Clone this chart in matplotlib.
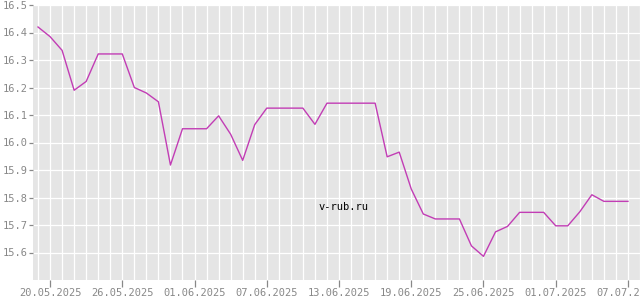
import numpy as np
import pandas as pd
import matplotlib
matplotlib.use('Agg')
import matplotlib.pyplot as plt
import matplotlib.dates as mdates

# курс по дням, 19.05.2025 - 07.07.2025
start = '2025-05-19'
values = [16.42, 16.385, 16.335, 16.19, 16.222, 16.322, 16.322, 16.322,
          16.20, 16.18, 16.148, 15.918, 16.05, 16.05, 16.05, 16.097,
          16.03, 15.935, 16.065, 16.125, 16.125, 16.125, 16.125, 16.066,
          16.143, 16.143, 16.143, 16.143, 16.143, 15.948, 15.965, 15.831,
          15.74, 15.722, 15.722, 15.722, 15.624, 15.586, 15.675, 15.695,
          15.746, 15.746, 15.746, 15.697, 15.697, 15.748, 15.81, 15.786,
          15.786, 15.786]
dates = pd.date_range(start, periods=len(values), freq='D')
tick_dates = pd.date_range('2025-05-20', '2025-07-07', freq='6D')
y_ticks = [15.6, 15.7, 15.8, 15.9, 16.0, 16.1, 16.2, 16.3, 16.4, 16.5]

plt.rcParams['font.family'] = 'DejaVu Sans Mono'

fig = plt.figure(figsize=(6.4, 3.0), dpi=100)
ax = fig.add_axes([33/640, 20/300, 607/640, 275/300])
ax.set_facecolor('#e5e5e5')
for s in ax.spines.values():
    s.set_visible(False)

# сетка: каждый день по x
ax.set_xticks(dates.union([dates[-1] + pd.Timedelta(days=1)]), minor=True)
ax.set_xticks(tick_dates)
ax.xaxis.set_major_formatter(mdates.DateFormatter('%d.%m.%Y'))
ax.set_yticks(y_ticks)
ax.yaxis.set_major_formatter(plt.FormatStrFormatter('%.1f'))
ax.grid(True, which='both', color='white', linewidth=0.9)
ax.set_axisbelow(True)

ax.plot(dates, values, color='#c23db5', linewidth=1.0)

ax.set_xlim(dates[0] - pd.Timedelta(hours=10), dates[-1] + pd.Timedelta(days=1))
ax.set_ylim(15.5, 16.5)

ax.tick_params(axis='x', which='major', length=5, width=0.9, color='#888888',
               labelcolor='#888888', labelsize=7.5, pad=1)
ax.tick_params(axis='x', which='minor', length=0)
ax.tick_params(axis='y', length=3, width=0.9, color='#888888',
               labelcolor='#888888', labelsize=7.5, pad=1)

ax.text(0.511, 0.265, 'v-rub.ru', transform=ax.transAxes, ha='center', va='center',
        fontsize=7.5, color='black')

fig.savefig('out.png', dpi=100)
